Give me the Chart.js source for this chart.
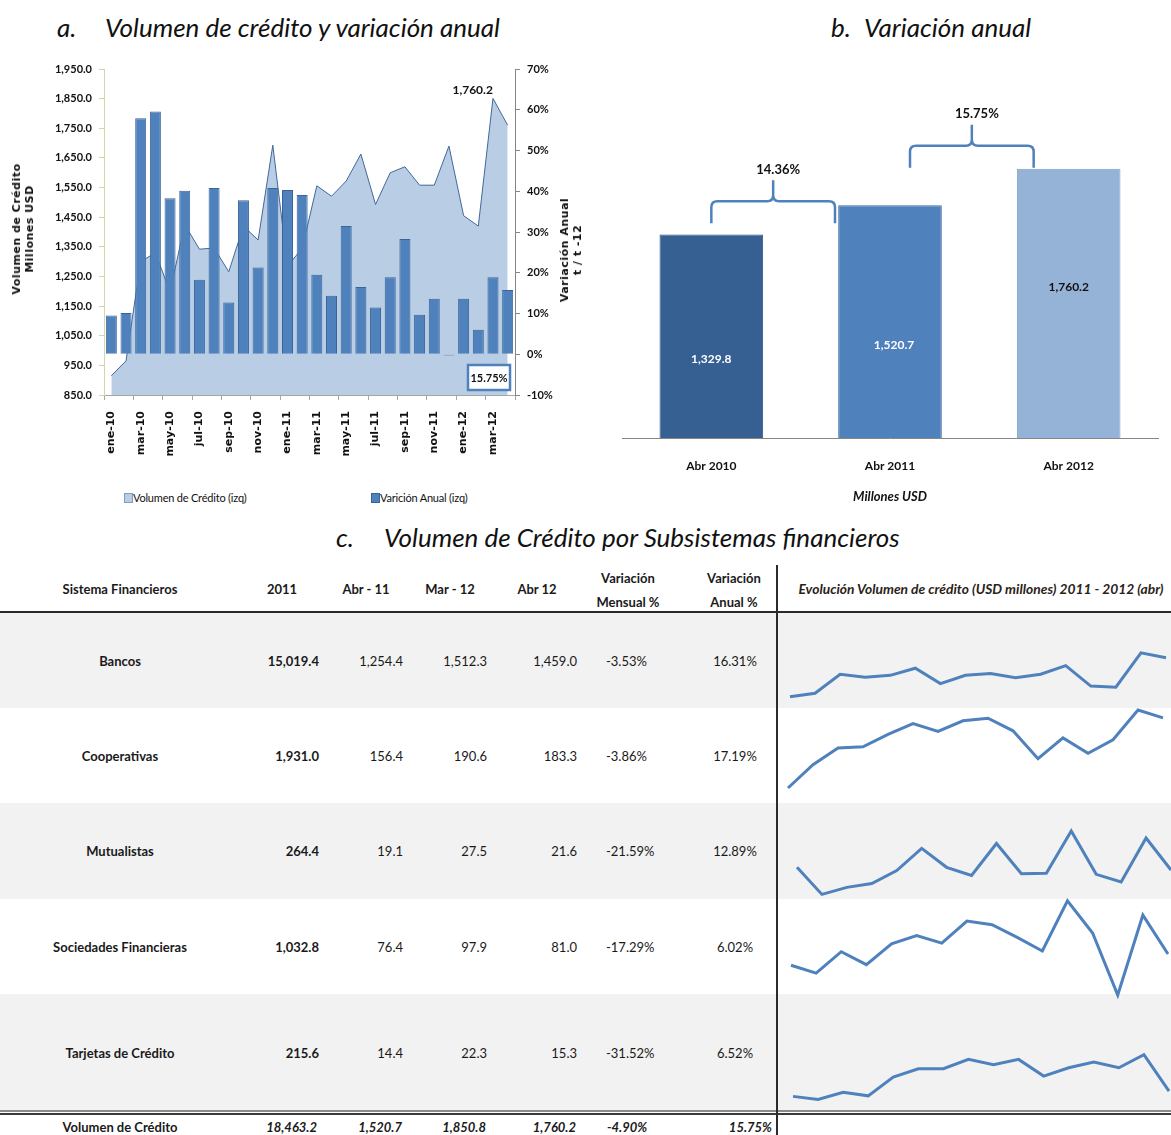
<!DOCTYPE html>
<html lang="es">
<head>
<meta charset="utf-8">
<title>Volumen de crédito</title>
<script src="https://cdn.jsdelivr.net/npm/chart.js@4.4.1/dist/chart.umd.min.js"></script>
<style>
  body { margin: 0; background: #fff; }
  #page { position: relative; width: 1171px; height: 1135px; overflow: hidden; font-family: Lato, "Liberation Sans", sans-serif; color: #1a1a1a; }
  .abs { position: absolute; white-space: nowrap; }
  .titulo { font-style: italic; font-size: 26px; line-height: 30px; color: #111; }
  .ejeTit { font-family: "DejaVu Sans", sans-serif; font-weight: bold; font-size: 11px; letter-spacing: 0.5px; line-height: 13px; text-align: center; color: #111; }
  .leyenda { font-size: 11px; letter-spacing: -0.2px; line-height: 14px; color: #111; }
  .cuadro { position: absolute; width: 7px; height: 8px; }
  .celda { font-size: 13px; line-height: 16px; }
  .enc { font-size: 13px; line-height: 16px; font-weight: bold; }
  canvas { position: absolute; }
</style>
</head>
<body>
<div id="page">
  <div class="abs titulo" style="left:57px;top:12px">a.</div>
  <div class="abs titulo" style="left:105px;top:12px">Volumen de crédito y variación anual</div>
  <div class="abs titulo" style="left:831px;top:12px">b.</div>
  <div class="abs titulo" style="left:864px;top:12px">Variación anual</div>
  <div class="abs titulo" style="left:336px;top:522px">c.</div>
  <div class="abs titulo" style="left:384px;top:522px">Volumen de Crédito por Subsistemas financieros</div>

  <canvas id="graficoA" width="600" height="480" style="left:0;top:0"></canvas>
  <div class="abs ejeTit" style="left:23px;top:229px;transform:translate(-50%,-50%) rotate(-90deg)">Volumen de Crédito<br>Millones USD</div>
  <div class="abs ejeTit" style="left:571px;top:250px;transform:translate(-50%,-50%) rotate(-90deg)">Variación Anual<br>t / t -12</div>
  <div class="cuadro" style="left:124px;top:493px;background:#b9cde5;border:1px solid #7f9cc4"></div>
  <div class="abs leyenda" style="left:133px;top:491px">Volumen de Crédito (izq)</div>
  <div class="cuadro" style="left:371px;top:493px;background:#4f81bd;border:1px solid #3a6496"></div>
  <div class="abs leyenda" style="left:380px;top:491px">Varición Anual (izq)</div>

  <canvas id="graficoB" width="571" height="460" style="left:600px;top:60px"></canvas>
</div>

<script>
// a. serie mensual ene-10 a abr-12
const meses = ['ene-10','feb-10','mar-10','abr-10','may-10','jun-10','jul-10','ago-10','sep-10','oct-10','nov-10','dic-10',
  'ene-11','feb-11','mar-11','abr-11','may-11','jun-11','jul-11','ago-11','sep-11','oct-11','nov-11','dic-11',
  'ene-12','feb-12','mar-12','abr-12'];
const volumenCredito = [915, 965, 1300, 1329.8, 1198, 1425, 1342, 1346, 1266, 1420, 1373, 1693,
  1286, 1344, 1556, 1520.7, 1572, 1663, 1493, 1600, 1620, 1558, 1558, 1690,
  1455, 1420, 1850.8, 1760.2];
const variacionAnual = [9.5, 10.1, 57.9, 59.6, 38.3, 40.1, 18.3, 40.8, 12.7, 37.8, 21.3, 40.8,
  40.3, 39.1, 19.5, 14.36, 31.5, 16.5, 11.5, 18.9, 28.3, 9.7, 13.6, -0.3,
  13.6, 6.0, 18.9, 15.75];
const ticksVolumen = [850, 1950, 100];   // min, max, paso
const ticksVariacion = [-10, 70, 10];

// b. abril de cada año
const periodosB = ['Abr 2010', 'Abr 2011', 'Abr 2012'];
const volumenAbril = [1329.8, 1520.7, 1760.2];

// c. subsistemas
const sistemas = ['Bancos', 'Cooperativas', 'Mutualistas', 'Sociedades Financieras', 'Tarjetas de Crédito'];
const total2011 = [15019.4, 1931.0, 264.4, 1032.8, 215.6];
const abr11 = [1254.4, 156.4, 19.1, 76.4, 14.4];
const mar12 = [1512.3, 190.6, 27.5, 97.9, 22.3];
const abr12 = [1459.0, 183.3, 21.6, 81.0, 15.3];
const varMensual = [-3.53, -3.86, -21.59, -17.29, -31.52];
const varAnual = [16.31, 17.19, 12.89, 6.02, 6.52];
const filaTotal = ['Volumen de Crédito', 18463.2, 1520.7, 1850.8, 1760.2, -4.90, 15.75];

// evolución mensual ene-11 a abr-12 por subsistema
const meses1112 = ['ene-11','feb-11','mar-11','abr-11','may-11','jun-11','jul-11','ago-11','sep-11','oct-11','nov-11','dic-11','ene-12','feb-12','mar-12','abr-12'];
const bancosMes = [1045.8, 1083.9, 1284.7, 1254.4, 1273.4, 1349.2, 1186.2, 1273.4, 1292.3, 1246.8, 1284.7, 1375.7, 1159.6, 1148.3, 1512.3, 1459.0];
const cooperativasMes = [118.2, 139.8, 155.4, 156.4, 168.0, 178.0, 170.7, 180.6, 183.0, 171.3, 145.4, 164.7, 150.4, 163.0, 190.6, 183.3];
const mutualistasMes = [22.1, 17.1, 18.4, 19.1, 21.5, 25.6, 22.1, 20.6, 26.5, 20.9, 21.0, 28.8, 20.8, 19.4, 27.5, 21.6];
const sociedadesMes = [76.1, 72.7, 82.0, 76.4, 85.4, 89.0, 85.7, 95.3, 93.7, 88.2, 82.3, 104.1, 90.1, 63.2, 97.9, 81.0];
const tarjetasMes = [14.3, 13.7, 15.1, 14.4, 18.0, 19.6, 19.6, 21.4, 20.4, 21.4, 18.2, 19.8, 20.9, 19.8, 22.3, 15.3];

const fmt = (v, d = 1) => v.toLocaleString('en-US', { minimumFractionDigits: d, maximumFractionDigits: d });
const pct = v => v.toFixed(2) + '%';
const FUENTE = 'Lato';

// etiqueta del último volumen y recuadro con la última variación
const notasA = {
  id: 'notasA',
  afterDatasetsDraw(chart) {
    const { ctx, chartArea, scales } = chart;
    const n = volumenCredito.length - 1;
    const x = scales.x.getPixelForValue(n);
    const y = scales.y.getPixelForValue(volumenCredito[n]);
    ctx.save();
    ctx.font = 'bold 12px ' + FUENTE;
    ctx.fillStyle = '#111';
    ctx.textAlign = 'center';
    ctx.textBaseline = 'middle';
    ctx.fillText(fmt(volumenCredito[n]), x - 35, y - 35);
    const w = 42, h = 25;
    const bx = chartArea.right - 5 - w, by = chartArea.bottom - 5 - h;
    ctx.fillStyle = '#fff';
    ctx.fillRect(bx, by, w, h);
    ctx.strokeStyle = '#4f81bd';
    ctx.lineWidth = 2.5;
    ctx.strokeRect(bx, by, w, h);
    ctx.fillStyle = '#111';
    ctx.font = 'bold 11px ' + FUENTE;
    ctx.fillText(pct(variacionAnual[n]), bx + w / 2, by + h / 2 + 1);
    ctx.restore();
  }
};

new Chart(document.getElementById('graficoA'), {
  data: {
    labels: meses,
    datasets: [{
      type: 'bar',
      label: 'Varición Anual (izq)',
      data: variacionAnual,
      yAxisID: 'y1',
      backgroundColor: '#4f81bd',
      borderColor: '#3a6496',
      borderWidth: 1,
      barPercentage: 0.75,
      categoryPercentage: 1,
      order: 1
    }, {
      type: 'line',
      label: 'Volumen de Crédito (izq)',
      data: volumenCredito,
      yAxisID: 'y',
      borderColor: '#41679b',
      borderWidth: 1,
      backgroundColor: '#b9cde5',
      fill: 'start',
      pointRadius: 0,
      tension: 0,
      order: 2
    }]
  },
  options: {
    responsive: false,
    animation: false,
    layout: { padding: { top: 69, left: 0, right: 0, bottom: 0 } },
    plugins: { legend: { display: false }, tooltip: { enabled: false } },
    scales: {
      x: {
        offset: true,
        grid: {
          offset: true,
          drawOnChartArea: false,
          tickLength: 5,
          color: ctx => (ctx.index === undefined || ctx.index % 2 === 0) ? '#a6a6a6' : 'rgba(0,0,0,0)'
        },
        border: { color: '#a6a6a6' },
        ticks: {
          autoSkip: false,
          maxRotation: 90,
          minRotation: 90,
          padding: 11,
          color: '#111',
          font: { family: 'DejaVu Sans', weight: 'bold', size: 11 },
          callback: (v, i) => i % 2 === 0 ? meses[i] : ''
        },
        afterFit(s) { s.height = 85; }
      },
      y: {
        position: 'left',
        min: ticksVolumen[0],
        max: ticksVolumen[1],
        grid: { drawOnChartArea: false, tickLength: 5, color: '#d3d6a9' },
        border: { color: '#d3d6a9' },
        ticks: {
          stepSize: ticksVolumen[2],
          padding: 7,
          color: '#111',
          font: { family: FUENTE, weight: 'bold', size: 11 },
          callback: v => fmt(v)
        },
        afterFit(s) { s.width = 104; }
      },
      y1: {
        position: 'right',
        min: ticksVariacion[0],
        max: ticksVariacion[1],
        grid: { drawOnChartArea: false, tickLength: 5, color: '#868686' },
        border: { color: '#868686' },
        ticks: {
          stepSize: ticksVariacion[2],
          padding: 7,
          color: '#111',
          font: { family: FUENTE, weight: 'bold', size: 11 },
          callback: v => v + '%'
        },
        afterFit(s) { s.width = 85; }
      }
    }
  },
  plugins: [notasA]
});

// etiquetas dentro de las barras y llaves con la variación entre años
const notasB = {
  id: 'notasB',
  afterDatasetsDraw(chart, args, opts) {
    const { ctx, scales } = chart;
    const xs = scales.x, ys = scales.y;
    ctx.save();
    ctx.textAlign = 'center';
    ctx.textBaseline = 'middle';
    ctx.font = 'bold 12px ' + FUENTE;
    volumenAbril.forEach((v, i) => {
      ctx.fillStyle = opts.colorEtiqueta[i];
      ctx.fillText(fmt(v), xs.getPixelForValue(i) + opts.dxEtiqueta[i], ys.getPixelForValue(v * opts.posEtiqueta[i]));
    });
    ctx.font = 'bold 13px ' + FUENTE;
    opts.llaves.forEach(l => {
      const x0 = xs.getPixelForValue(l.de) + l.dx0;
      const x1 = xs.getPixelForValue(l.a) + l.dx1;
      const xm = (x0 + x1) / 2;
      const yh = ys.getPixelForValue(volumenAbril[l.a]) - l.alto;
      const yb = yh + 22, yt = yh - 21, r = 6;
      ctx.strokeStyle = '#4f81bd';
      ctx.lineWidth = 2.5;
      ctx.beginPath();
      ctx.moveTo(x0, yb);
      ctx.lineTo(x0, yh + r);
      ctx.quadraticCurveTo(x0, yh, x0 + r, yh);
      ctx.lineTo(xm - r, yh);
      ctx.quadraticCurveTo(xm, yh, xm, yh - r);
      ctx.lineTo(xm, yt);
      ctx.moveTo(xm, yh - r);
      ctx.quadraticCurveTo(xm, yh, xm + r, yh);
      ctx.lineTo(x1 - r, yh);
      ctx.quadraticCurveTo(x1, yh, x1, yh + r);
      ctx.lineTo(x1, yb);
      ctx.stroke();
      ctx.fillStyle = '#111';
      const cambio = (volumenAbril[l.a] / volumenAbril[l.de] - 1) * 100;
      ctx.fillText(pct(cambio), xm + 5, yt - 11);
    });
    ctx.restore();
  }
};

new Chart(document.getElementById('graficoB'), {
  type: 'bar',
  data: {
    labels: periodosB,
    datasets: [{
      data: volumenAbril,
      backgroundColor: ['#376092', '#4f81bd', '#95b3d7'],
      borderColor: ['#2e5482', '#44719f', '#7f9fc6'],
      borderWidth: 1,
      barPercentage: 0.58,
      categoryPercentage: 1
    }]
  },
  options: {
    responsive: false,
    animation: false,
    layout: { padding: { left: 22, right: 13, top: 72, bottom: 0 } },
    plugins: {
      legend: { display: false },
      tooltip: { enabled: false },
      notasB: {
        posEtiqueta: [0.39, 0.40, 0.56],
        dxEtiqueta: [0, 4, 0],
        colorEtiqueta: ['#fff', '#fff', '#111'],
        llaves: [{ de: 0, a: 1, dx0: 0, dx1: -55, alto: 4 }, { de: 1, a: 2, dx0: 20, dx1: -35, alto: 23 }]
      }
    },
    scales: {
      x: {
        grid: { display: false },
        border: { color: '#868686' },
        ticks: { padding: 13, color: '#111', font: { family: FUENTE, weight: 'bold', size: 12 } },
        title: {
          display: true,
          text: 'Millones USD',
          color: '#111',
          font: { family: FUENTE, style: 'italic', weight: 'bold', size: 13 },
          padding: { top: 0, bottom: 15 }
        },
        afterFit(s) { s.height = 82; }
      },
      y: { display: false, min: 0, max: 2000 }
    }
  },
  plugins: [notasB]
});

// tabla c
const page = document.getElementById('page');
function texto(x, y, t, cls, al, extra) {
  const d = document.createElement('div');
  d.className = 'abs ' + cls;
  d.style.left = x + 'px';
  d.style.top = y + 'px';
  const tx = al === 'c' ? '-50%' : al === 'r' ? '-100%' : '0';
  d.style.transform = 'translate(' + tx + ',-50%)';
  if (extra) Object.assign(d.style, extra);
  d.textContent = t;
  page.appendChild(d);
  return d;
}
function caja(x, y, w, h, css) {
  const d = document.createElement('div');
  d.style.position = 'absolute';
  d.style.left = x + 'px'; d.style.top = y + 'px';
  d.style.width = w + 'px'; d.style.height = h + 'px';
  Object.assign(d.style, css);
  page.appendChild(d);
  return d;
}

const filaTop = [613, 708, 803, 899, 994];
const filaAlto = [95, 95, 96, 95, 117];
filaTop.forEach((t, i) => { if (i % 2 === 0) caja(0, t, 1171, filaAlto[i], { background: '#f2f2f2' }); });
caja(0, 611, 1171, 2, { background: '#2b2b2b' });
caja(0, 1110, 1171, 2, { background: '#8a8a8a' });
caja(0, 1113, 1171, 2, { background: '#3a3a3a' });

texto(120, 589, 'Sistema Financieros', 'enc', 'c');
texto(282, 589, '2011', 'enc', 'c');
texto(366, 589, 'Abr - 11', 'enc', 'c');
texto(450, 589, 'Mar - 12', 'enc', 'c');
texto(537, 589, 'Abr 12', 'enc', 'c');
texto(628, 578, 'Variación', 'enc', 'c');
texto(628, 602, 'Mensual %', 'enc', 'c');
texto(734, 578, 'Variación', 'enc', 'c');
texto(734, 602, 'Anual %', 'enc', 'c');
texto(981, 589, 'Evolución Volumen de crédito (USD millones) 2011 - 2012 (abr)', 'enc', 'c', { fontStyle: 'italic', fontSize: '13.8px', color: '#2a2218' });

sistemas.forEach((s, i) => {
  const y = filaTop[i] + filaAlto[i] / 2;
  texto(120, y, s, 'celda', 'c', { fontWeight: 'bold' });
  texto(319, y, fmt(total2011[i]), 'celda', 'r', { fontWeight: 'bold' });
  texto(403, y, fmt(abr11[i]), 'celda', 'r');
  texto(487, y, fmt(mar12[i]), 'celda', 'r');
  texto(577, y, fmt(abr12[i]), 'celda', 'r');
  texto(606, y, pct(varMensual[i]), 'celda', 'l');
  texto(735, y, pct(varAnual[i]), 'celda', 'c');
});
const estTotal = { fontWeight: 'bold', fontStyle: 'italic' };
texto(120, 1127, filaTotal[0], 'celda', 'c', { fontWeight: 'bold' });
texto(317, 1127, fmt(filaTotal[1]), 'celda', 'r', estTotal);
texto(402, 1127, fmt(filaTotal[2]), 'celda', 'r', estTotal);
texto(486, 1127, fmt(filaTotal[3]), 'celda', 'r', estTotal);
texto(576, 1127, fmt(filaTotal[4]), 'celda', 'r', estTotal);
texto(607, 1127, pct(filaTotal[5]), 'celda', 'l', estTotal);
texto(772, 1127, pct(filaTotal[6]), 'celda', 'r', estTotal);

// mini gráficos de evolución, uno por fila
const series = [bancosMes, cooperativasMes, mutualistasMes, sociedadesMes, tarjetasMes];
const marcoSpark = [
  { yMax: 652.8, yMin: 696.8, x0: 790, x1: 1166 },
  { yMax: 710, yMin: 788, x0: 788, x1: 1163 },
  { yMax: 831, yMin: 894.4, x0: 797, x1: 1171 },
  { yMax: 900.8, yMin: 995, x0: 791, x1: 1168 },
  { yMax: 1054.7, yMin: 1099.5, x0: 793, x1: 1169 }
];
series.forEach((datos, i) => {
  const m = marcoSpark[i];
  const top = filaTop[i] - 10, alto = filaAlto[i] + 20;
  const cv = document.createElement('canvas');
  cv.width = 395; cv.height = alto;
  cv.style.left = '776px'; cv.style.top = top + 'px';
  page.appendChild(cv);
  const hi = Math.max(...datos), lo = Math.min(...datos);
  const porPx = (hi - lo) / (m.yMin - m.yMax);
  new Chart(cv, {
    type: 'line',
    data: { labels: meses1112, datasets: [{ data: datos, borderColor: '#4f81bd', borderWidth: 3, pointRadius: 0, tension: 0, fill: false }] },
    options: {
      responsive: false,
      animation: false,
      layout: { padding: { left: m.x0 - 776, right: 1171 - m.x1, top: 0, bottom: 0 } },
      plugins: { legend: { display: false }, tooltip: { enabled: false } },
      scales: {
        x: { display: false, offset: false },
        y: { display: false, max: hi + (m.yMax - top) * porPx, min: lo - (top + alto - m.yMin) * porPx }
      }
    }
  });
});
caja(776, 565, 1.5, 570, { background: '#2b2b2b' });
</script>
</body>
</html>
